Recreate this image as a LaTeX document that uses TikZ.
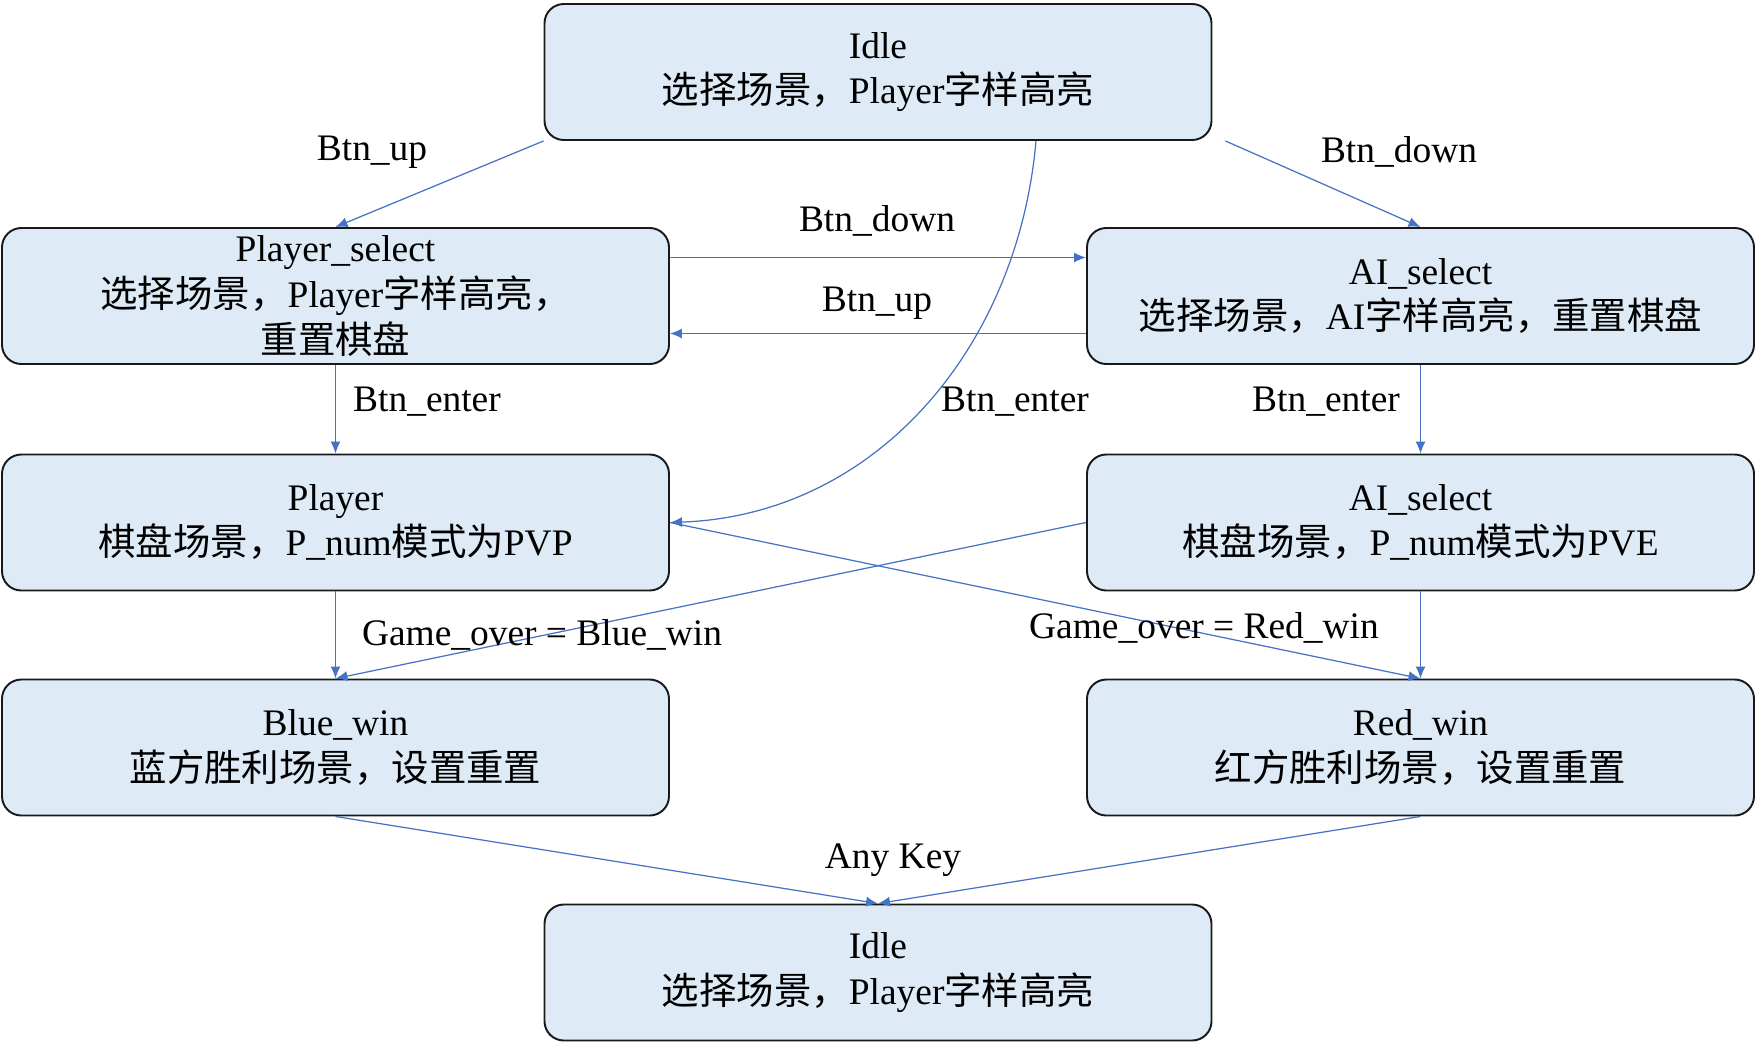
\documentclass[tikz,border=0pt]{standalone}
\usepackage{fontspec}
\setmainfont{Liberation Serif}
\newfontfamily\cjk{Noto Sans CJK SC}
\usetikzlibrary{arrows.meta,positioning}
\definecolor{boxfill}{HTML}{DEEBF7}
\definecolor{arrblue}{HTML}{4472C4}
\newcommand{\zhtxt}[1]{{\cjk #1}}

\begin{document}
\begin{tikzpicture}[
  state/.style={draw=black!90, line width=1.1pt, rounded corners=11pt, fill=boxfill,
                minimum width=13.34cm, minimum height=2.72cm,
                font=\fontsize{21.3}{26}\selectfont, align=center},
  lbl/.style={font=\fontsize{21.3}{26}\selectfont},
  arr/.style={-{Latex[length=0.24cm,width=0.2cm]}, draw=arrblue, line width=0.7pt}
]
\useasboundingbox (0,0) rectangle (35.12,-20.86);

%% States, five rows 4.5cm apart
\node[state] (idle)  at (17.56,-1.44)  {Idle\\\zhtxt{选择场景，}Player\zhtxt{字样高亮}};
\node[state] (psel)  at (6.71,-5.92)   {Player\_select\\\zhtxt{选择场景，}Player\zhtxt{字样高亮，}\\\zhtxt{重置棋盘}};
\node[state] (asel)  at (28.41,-5.92)  {AI\_select\\\zhtxt{选择场景，}AI\zhtxt{字样高亮，重置棋盘}};
\node[state] (pvp)   at (6.71,-10.45)  {Player\\\zhtxt{棋盘场景，}P\_num\zhtxt{模式为}PVP};
\node[state] (pve)   at (28.41,-10.45) {AI\_select\\\zhtxt{棋盘场景，}P\_num\zhtxt{模式为}PVE};
\node[state] (bwin)  at (6.71,-14.95)  {Blue\_win\\\zhtxt{蓝方胜利场景，设置重置}};
\node[state] (rwin)  at (28.41,-14.95) {Red\_win\\\zhtxt{红方胜利场景，设置重置}};
\node[state] (idle2) at (17.56,-19.45) {Idle\\\zhtxt{选择场景，}Player\zhtxt{字样高亮}};

%% Idle -> select
\draw[arr] (idle.south west) -- (psel.north);
\draw[arr] ([xshift=0.26cm]idle.south east) -- (asel.north);
\draw[arr] ([xshift=3.16cm]idle.south) to[out=-95, in=2] (pvp.east);

%% select <-> select
\draw[arr] ([yshift=0.77cm]psel.east) -- ([yshift=0.77cm]asel.west);
\draw[arr] ([yshift=-0.75cm]asel.west) -- ([yshift=-0.75cm]psel.east);

%% select -> game
\draw[arr] (psel) -- (pvp);
\draw[arr] (asel) -- (pve);

%% game -> win
\draw[arr] (pvp) -- (bwin);
\draw[arr] (pve) -- (rwin);
\draw[arr] (pve.west) -- (bwin.north);
\draw[arr] (pvp.east) -- (rwin.north);

%% win -> Idle
\draw[arr] (bwin.south) -- (idle2.north);
\draw[arr] (rwin.south) -- (idle2.north);

%% Labels
\node[lbl] (l1) at (7.44,-3.04)   {Btn\_up};
\node[lbl] (l2) at (27.98,-3.04)  {Btn\_down};
\node[lbl] (l3) at (17.54,-4.42)  {Btn\_down};
\node[lbl] (l4) at (17.54,-6.07)  {Btn\_up};
\node[lbl] (l5) at (8.54,-8.04)   {Btn\_enter};
\node[lbl] (l6) at (20.30,-8.04)  {Btn\_enter};
\node[lbl] (l7) at (26.52,-8.04)  {Btn\_enter};
\node[lbl] (l8) at (10.84,-12.70) {Game\_over = Blue\_win};
\node[lbl] (l9) at (24.08,-12.56) {Game\_over = Red\_win};
\node[lbl] (l10) at (17.86,-17.20) {Any Key};
\end{tikzpicture}
\end{document}
